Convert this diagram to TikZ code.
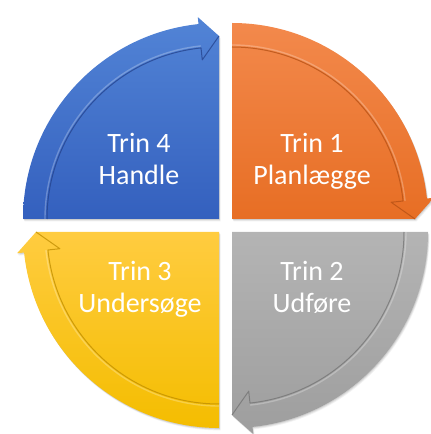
\documentclass[tikz,border=0pt]{standalone}
\usepackage{fontspec}
\setmainfont{Carlito}
\definecolor{bluetop}{RGB}{82,132,214}
\definecolor{bluebot}{RGB}{52,96,190}
\definecolor{bluelin}{RGB}{36,66,140}
\definecolor{orgtop}{RGB}{243,137,76}
\definecolor{orgbot}{RGB}{231,110,36}
\definecolor{orglin}{RGB}{180,80,20}
\definecolor{gratop}{RGB}{180,180,180}
\definecolor{grabot}{RGB}{158,158,158}
\definecolor{gralin}{RGB}{115,115,115}
\definecolor{yeltop}{RGB}{255,204,64}
\definecolor{yelbot}{RGB}{244,189,0}
\definecolor{yellin}{RGB}{190,140,0}
\newcommand\myquadrant[6]{%
 \begin{scope}[shift={(#1,#2)}]
  \foreach \k/\o in {3/0.05,2/0.07,1/0.09}{%
   \fill[black,opacity=\o,shift={(\k*0.5,-\k*0.8)}]
     (0,0) -- (#3:196) arc[start angle=#3, end angle=#3-84, radius=196]
     -- (#3-84:203) -- (#3-90:183) -- cycle;}
  \shade[top color=#4,bottom color=#5]
     (0,0) -- (#3:196) arc[start angle=#3, end angle=#3-84, radius=196]
     -- (#3-84:203) -- (#3-90:183) -- cycle;
  \draw[white,opacity=0.25,line width=1.4pt,line join=round]
     (#3:174) arc[start angle=#3, end angle=#3-84, radius=174];
  \draw[#6,opacity=0.75,line width=1pt,line join=round]
     (#3:172) arc[start angle=#3, end angle=#3-84, radius=172]
     -- (#3-84:160) -- (#3-90:183);
 \end{scope}}
\begin{document}
\begin{tikzpicture}[x=1pt,y=1pt,
  lbl/.style={text=white,anchor=base,inner sep=0pt,font=\fontsize{28}{32}\selectfont}]
\useasboundingbox (0,0) rectangle (431,434);
\myquadrant{219}{215}{180}{bluetop}{bluebot}{bluelin}
\myquadrant{232}{215}{90}{orgtop}{orgbot}{orglin}
\myquadrant{232}{202}{0}{gratop}{grabot}{gralin}
\myquadrant{219}{202}{270}{yeltop}{yelbot}{yellin}
\node[lbl] (t4a) at (139,281) {Trin 4};
\node[lbl] (t4b) at (139,249) {Handle};
\node[lbl] (t1a) at (312,281) {Trin 1};
\node[lbl] (t1b) at (312,249) {Planlægge};
\node[lbl] (t2a) at (312,153) {Trin 2};
\node[lbl] (t2b) at (312,121) {Udføre};
\node[lbl] (t3a) at (140,153) {Trin 3};
\node[lbl] (t3b) at (140,121) {Undersøge};
\end{tikzpicture}
\end{document}
